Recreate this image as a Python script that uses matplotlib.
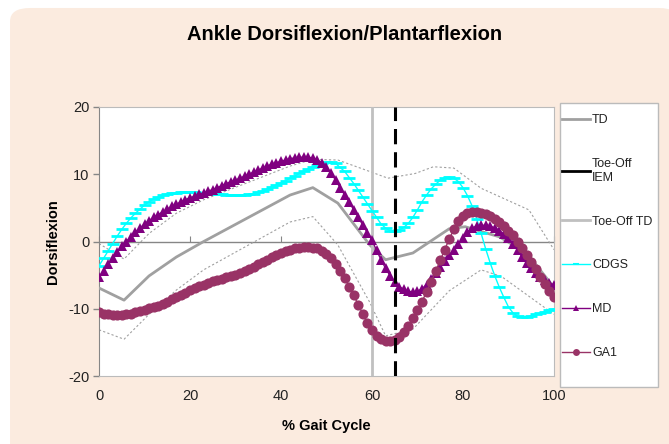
import matplotlib
matplotlib.use("Agg")
import matplotlib.pyplot as plt
from matplotlib.patches import FancyBboxPatch, Rectangle

plt.rcParams['font.family'] = ['Liberation Sans', 'DejaVu Sans']
plt.rcParams['axes.unicode_minus'] = False

# gait cycle, percent
gait = list(range(101))

cdgs = [-3.6, -2.5, -1.4, -0.3, 0.8, 1.8, 2.7, 3.5, 4.2, 4.8,
        5.4, 5.9, 6.3, 6.6, 6.9, 7.1, 7.2, 7.25, 7.3, 7.3,
        7.3, 7.3, 7.25, 7.2, 7.15, 7.1, 7.0, 7.0, 6.95, 6.9,
        6.9, 6.9, 6.95, 7.0, 7.1, 7.3, 7.5, 7.8, 8.1, 8.4,
        8.7, 9.0, 9.4, 9.7, 10.1, 10.4, 10.8, 11.1, 11.4, 11.6,
        11.8, 11.8, 11.6, 11.0, 10.4, 9.5, 8.6, 7.6, 6.6, 5.6,
        4.6, 3.6, 2.6, 2.0, 1.6, 1.5, 1.7, 2.1, 2.7, 3.6,
        4.7, 5.9, 6.9, 7.8, 8.5, 9.1, 9.5, 9.6, 9.4, 8.9,
        8.0, 6.8, 5.3, 3.4, 1.2, -1.1, -3.2, -5.1, -6.8, -8.3,
        -9.7, -10.6, -11.1, -11.2, -11.2, -11.0, -10.8, -10.6, -10.4, -10.2,
        -10.0]

md = [-5.3, -4.3, -3.3, -2.4, -1.5, -0.7, 0.0, 0.7, 1.4, 2.0,
      2.6, 3.1, 3.6, 4.0, 4.4, 4.8, 5.2, 5.5, 5.9, 6.2,
      6.5, 6.7, 7.0, 7.2, 7.5, 7.7, 8.0, 8.3, 8.6, 8.9,
      9.1, 9.4, 9.7, 10.0, 10.3, 10.6, 10.9, 11.2, 11.5, 11.7,
      11.9, 12.1, 12.3, 12.4, 12.5, 12.5, 12.5, 12.4, 12.1, 11.7,
      11.0, 10.2, 9.1, 8.0, 6.9, 5.8, 4.7, 3.6, 2.4, 1.3,
      0.2, -1.3, -2.7, -4.0, -5.1, -6.0, -6.7, -7.1, -7.4, -7.5,
      -7.4, -7.0, -6.4, -5.6, -4.7, -3.8, -2.9, -2.0, -1.2, -0.4,
      0.5, 1.4, 2.0, 2.3, 2.4, 2.4, 2.3, 2.0, 1.6, 1.1,
      0.5, -0.3, -1.3, -2.3, -3.2, -4.0, -4.6, -5.2, -5.7, -6.1,
      -6.5]

ga1 = [-10.5, -10.7, -10.8, -10.9, -10.9, -10.85, -10.8, -10.7, -10.5, -10.3,
       -10.1, -9.9, -9.7, -9.5, -9.2, -8.9, -8.6, -8.3, -8.0, -7.6,
       -7.2, -6.9, -6.6, -6.4, -6.1, -5.9, -5.7, -5.5, -5.3, -5.1,
       -4.9, -4.7, -4.4, -4.1, -3.8, -3.4, -3.1, -2.7, -2.3, -2.0,
       -1.7, -1.4, -1.2, -1.0, -0.9, -0.8, -0.8, -0.9, -1.0, -1.4,
       -1.9, -2.5, -3.4, -4.3, -5.4, -6.7, -8.0, -9.4, -10.8, -12.1,
       -13.2, -14.0, -14.4, -14.7, -14.8, -14.6, -14.1, -13.4, -12.5, -11.4,
       -10.2, -8.9, -7.5, -6.0, -4.4, -2.8, -1.2, 0.4, 1.8, 3.0,
       3.8, 4.2, 4.4, 4.4, 4.3, 4.1, 3.8, 3.4, 2.9, 2.3,
       1.6, 0.9, 0.0, -0.9, -2.0, -3.0, -4.1, -5.2, -6.3, -7.3,
       -8.2]

# typically developing mean and +/- 1 SD
td_x = [0, 5.5, 11, 17, 23, 42, 47, 52.5, 59.5, 63, 69, 77, 80.5, 88, 94, 100]
td_y = [-6.9, -8.7, -5.1, -2.3, 0.0, 6.9, 8.0, 5.7, -0.5, -2.7, -1.7, 1.9, 2.2, 0.7, -1.7, -6.8]
up_x = [0, 5.5, 11, 17, 23, 42, 47, 52.5, 59.5, 63.5, 69.5, 73.5, 78, 84, 94.5, 100]
up_y = [-0.3, -2.6, 1.2, 4.2, 6.2, 11.2, 12.2, 12.1, 10.4, 9.4, 10.1, 11.1, 10.9, 7.9, 4.7, -1.2]
lo_x = [0, 5.5, 11, 17, 23, 42, 47, 52.5, 59.5, 63, 69, 77, 84, 88.5, 100]
lo_y = [-13.1, -14.5, -10.8, -7.2, -4.2, 2.9, 3.7, -0.5, -9.0, -14.0, -13.0, -7.3, -4.2, -5.2, -10.8]

toe_off_iem = 65
toe_off_td = 60

fig = plt.figure(figsize=(6.69, 4.44), dpi=100)
fig.patch.set_facecolor('white')
bg = FancyBboxPatch((0.015, -0.05), 1.0, 1.032, boxstyle="round,pad=0,rounding_size=0.03",
                    transform=fig.transFigure, facecolor='#FBEBDF', edgecolor='none', zorder=-10)
fig.add_artist(bg)

ax = fig.add_axes([0.148, 0.1525, 0.680, 0.607])
ax.set_facecolor('white')

ax.axhline(0, color='#868686', lw=1, zorder=1)
ax.plot(up_x, up_y, color='#A0A0A0', lw=0.8, ls=(0, (2, 2)), zorder=2)
ax.plot(lo_x, lo_y, color='#A0A0A0', lw=0.8, ls=(0, (2, 2)), zorder=2)
ax.plot(td_x, td_y, color='#A0A0A0', lw=2, zorder=3, label='TD')
ax.axvline(toe_off_iem, color='black', lw=2.2, ls=(0, (5, 2.6)), zorder=7)
ax.axvline(toe_off_td, color='#C0C0C0', lw=2, zorder=3)
ax.plot(gait, cdgs, color='#00FFFF', lw=1, marker='_', ms=8, mew=2, zorder=4)
ax.plot(gait, md, color='#800080', lw=1, marker='^', ms=7, mew=0, zorder=5)
ax.plot(gait, ga1, color='#993366', lw=1, marker='o', ms=7.3, mew=0, zorder=6)

ax.set_xlim(0, 100)
ax.set_ylim(-20, 20)
ax.set_xticks([0, 20, 40, 60, 80, 100])
ax.set_yticks([-20, -10, 0, 10, 20])
ax.tick_params(axis='x', length=0, pad=9, labelsize=10.5, colors='#222222')
ax.tick_params(axis='y', length=4, width=1, direction='out', pad=3, labelsize=10.5,
               colors='#868686', labelcolor='#222222')
for s in ['top', 'right', 'bottom']:
    ax.spines[s].set_color('#BBBBBB')
ax.spines['left'].set_color('#868686')

# tick marks on the zero line
sec = ax.secondary_xaxis(0.5)
sec.set_xticks([0, 20, 40, 60, 80, 100])
sec.tick_params(length=4, direction='out', labelbottom=False, labeltop=False, colors='#868686')
sec.spines['bottom'].set_visible(False)
sec.spines['top'].set_visible(False)

ax.set_xlabel('% Gait Cycle', fontsize=10.5, fontweight='bold', labelpad=12)
ax.set_ylabel('Dorsiflexion', fontsize=10.5, fontweight='bold', labelpad=6)

fig.text(345 / 669, 1 - 35 / 444, 'Ankle Dorsiflexion/Plantarflexion', ha='center', va='center',
         fontsize=14.5, fontweight='bold')

# legend box
fig.add_artist(Rectangle((560 / 669, 1 - 387 / 444), 98 / 669, 284 / 444, transform=fig.transFigure,
                         facecolor='white', edgecolor='#BBBBBB', lw=1, zorder=1))
handles = [
    plt.Line2D([], [], color='#A0A0A0', lw=2),
    plt.Line2D([], [], color='black', lw=2),
    plt.Line2D([], [], color='#C0C0C0', lw=2),
    plt.Line2D([], [], color='#00FFFF', lw=1, marker='_', ms=5, mew=1.5),
    plt.Line2D([], [], color='#800080', lw=1, marker='^', ms=5, mew=0),
    plt.Line2D([], [], color='#993366', lw=1, marker='o', ms=5, mew=0),
]
labels = ['TD', 'Toe-Off\nIEM', 'Toe-Off TD', 'CDGS', 'MD', 'GA1']
leg = fig.legend(handles, labels, loc='upper left', bbox_to_anchor=(562 / 669, 1 - 114 / 444),
                 frameon=False, fontsize=9, labelspacing=2.55, handlelength=2.2, handletextpad=0.2,
                 borderpad=0, borderaxespad=0)
leg.set_zorder(2)
for t in leg.get_texts():
    t.set_color('#222222')

fig.savefig('out.png', dpi=100, facecolor=fig.get_facecolor())
